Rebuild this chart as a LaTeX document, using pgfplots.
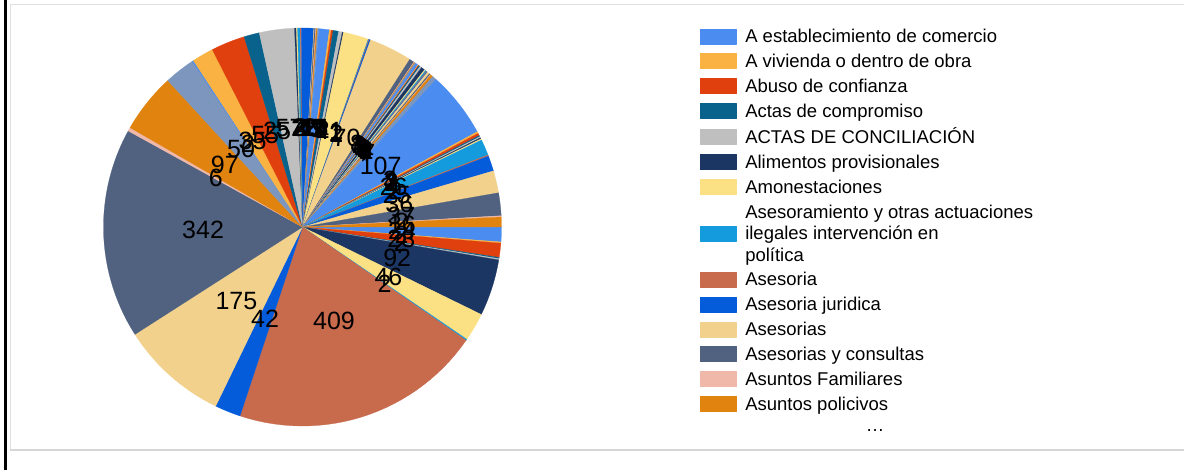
\documentclass[border=0pt]{standalone}
\usepackage{fontspec}
\setmainfont{Liberation Sans}
\usepackage{pgfplots}
\usepackage{pgfplotstable}
\pgfplotsset{compat=1.18}

\definecolor{c1}{HTML}{4A8CF0}
\definecolor{c2}{HTML}{FAB242}
\definecolor{c3}{HTML}{E0400E}
\definecolor{c4}{HTML}{08628C}
\definecolor{c5}{HTML}{BFBFBF}
\definecolor{c6}{HTML}{1C3664}
\definecolor{c7}{HTML}{FCE084}
\definecolor{c8}{HTML}{149BDE}
\definecolor{c9}{HTML}{C86A4C}
\definecolor{c10}{HTML}{055CDB}
\definecolor{c11}{HTML}{F2D18C}
\definecolor{c12}{HTML}{506280}
\definecolor{c13}{HTML}{F0B8A8}
\definecolor{c14}{HTML}{E0830F}
\definecolor{c15}{HTML}{7C96BE}

\pgfplotstableread{
v
24
2
23
2
2
92
46
2
409
42
175
342
6
97
50
2
35
55
25
57
3
2
4
2
20
1
2
1
2
2
17
3
3
9
6
2
41
1
1
2
70
8
1
1
2
4
1
1
2
3
6
2
2
1
1
4
2
1
4
7
107
3
4
2
2
2
2
26
2
25
36
37
2
16
}\piedata

\pgfplotstablegetrowsof{\piedata}
\xdef\N{\pgfplotsretval}
\pgfmathtruncatemacro\Nm{\N-1}
\gdef\cum{0}
\pgfplotsforeachungrouped \i in {0,...,\Nm}{%
  \pgfplotstablegetelem{\i}{v}\of\piedata
  \let\val\pgfplotsretval
  \pgfmathtruncatemacro\j{\i+1}%
  \pgfmathtruncatemacro\cumnew{\cum+\val}%
  \expandafter\xdef\csname sa\j\endcsname{\cum}%
  \expandafter\xdef\csname sb\j\endcsname{\cumnew}%
  \expandafter\xdef\csname sv\j\endcsname{\val}%
  \pgfmathtruncatemacro\cidx{mod(\i,15)+1}%
  \colorlet{s\j}{c\cidx}%
  \xdef\cum{\cumnew}%
}
\xdef\tot{\cum}
\gdef\labcoords{}
\pgfplotsforeachungrouped \j in {1,...,\N}{%
  \pgfmathsetmacro\ta{-\csname sb\j\endcsname/\tot*360}%
  \pgfmathsetmacro\tb{-\csname sa\j\endcsname/\tot*360}%
  \expandafter\xdef\csname ta\j\endcsname{\ta}%
  \expandafter\xdef\csname tb\j\endcsname{\tb}%
  \pgfmathsetmacro\tm{(\ta+\tb)/2}%
  \pgfmathsetmacro\lx{0.5*cos(\tm)}%
  \pgfmathsetmacro\ly{0.5*sin(\tm)}%
  \xdef\labcoords{\labcoords (\lx,\ly) [\csname sv\j\endcsname]}%
}

\pgfplotsset{labelplot/.style={draw=none, mark=none, nodes near coords,
  point meta=explicit symbolic,
  every node near coord/.style={anchor=center, font=\fontsize{25}{25}\selectfont, text=black, inner sep=0pt}}}

\begin{document}
\begin{tikzpicture}
\useasboundingbox (0,0) rectangle (1184pt,-470pt);
\fill[white] (0,0) rectangle (1184pt,-470pt);
\draw[black, line width=2.5pt] (5.5pt,0) -- (5.5pt,-470pt);
\draw[black!12, line width=1pt] (1190pt,-5pt) -- (10pt,-5pt) -- (10pt,-450pt);
\draw[black!16, line width=2pt] (10pt,-450pt) -- (1190pt,-450pt);
\begin{axis}[
  at={(302.5pt,-227pt)}, anchor=center,
  x=199pt, y=199pt,
  xmin=-1, xmax=1, ymin=-1, ymax=1,
  hide axis, clip=false,
  legend entries={
    \strut A establecimiento de comercio,
    \strut A vivienda o dentro de obra,
    \strut Abuso de confianza,
    \strut Actas de compromiso,
    \strut ACTAS DE CONCILIACIÓN,
    \strut Alimentos provisionales,
    \strut Amonestaciones,
    {\strut Asesoramiento y otras actuaciones\\\strut ilegales intervención en\\\strut política},
    \strut Asesoria,
    \strut Asesoria juridica,
    \strut Asesorias,
    \strut Asesorias y consultas,
    \strut Asuntos Familiares,
    \strut Asuntos policivos},
  legend style={at={(axis cs:1.9975,1.0)}, anchor=north west, draw=none, fill=none,
    inner sep=0pt, outer sep=0pt, column sep=9pt, row sep=8.6pt,
    font=\fontsize{18.5}{21.2}\selectfont,
    cells={anchor=west, align=left}, nodes={inner sep=0pt}},
  legend image code/.code={\fill[#1] (0pt,-7.5pt) rectangle (36pt,7.5pt);},
]
\pgfplotsinvokeforeach{1,...,\N}{%
  \edef\temp{\noexpand\addplot[fill=s#1, draw=s#1, line width=0.25pt, line join=round,
     domain=\csname ta#1\endcsname:\csname tb#1\endcsname, samples=30]
     ({cos(x)},{sin(x)}) -- (axis cs:0,0) -- cycle;}%
  \temp
}
\edef\temp{\noexpand\addplot[labelplot] coordinates {\labcoords};}\temp
\end{axis}
\node[font=\fontsize{18.5}{21}\selectfont] at (875pt,-431pt) {…};
\end{tikzpicture}
\end{document}
